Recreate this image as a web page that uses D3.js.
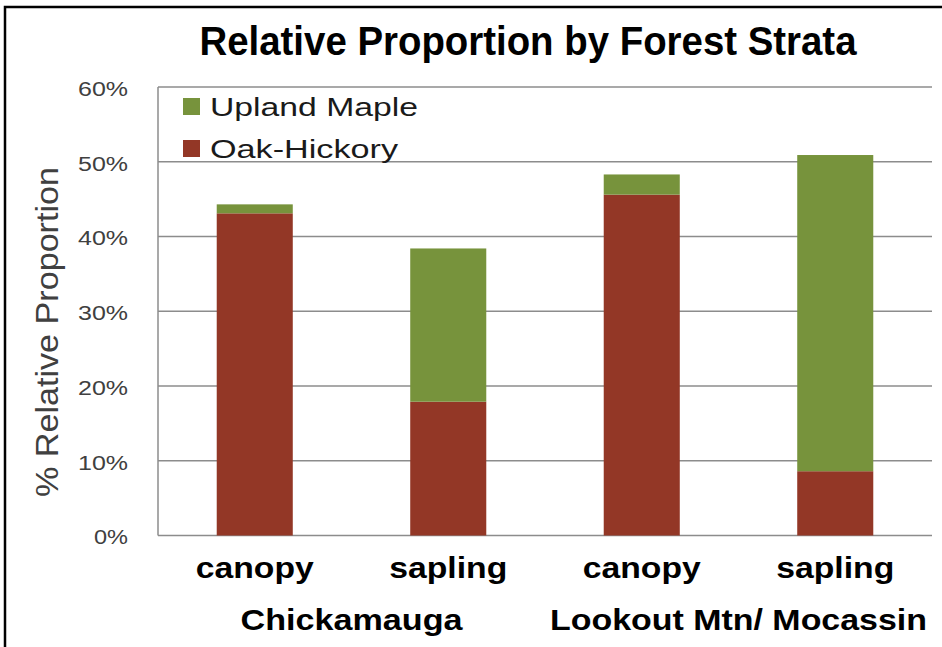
<!DOCTYPE html>
<html>
<head>
    <title>Relative Proportion by Forest Strata</title>
    <script src="https://d3js.org/d3.v7.min.js"></script>
    <style>
        body { margin: 0; background: white; }
        svg { display: block; font-family: "Liberation Sans", Arial, sans-serif; }
    </style>
</head>
<body>
    <div id="chart"></div>
    <script>
        // data (percent)
        const strata = ["canopy", "sapling", "canopy", "sapling"];
        const sites = ["Chickamauga", "Lookout Mtn/ Mocassin"];
        const oakHickory = [43.1, 17.9, 45.6, 8.6];
        const uplandMaple = [1.2, 20.5, 2.7, 42.3];
        const yTicks = [0, 10, 20, 30, 40, 50, 60];
        const seriesNames = ["Upland Maple", "Oak-Hickory"];

        const width = 942, height = 647;
        const margin = { top: 87, right: 10, bottom: 111, left: 158 };
        const plotRight = 932;
        const colors = { "Oak-Hickory": "#933726", "Upland Maple": "#77933c" };

        const svg = d3.select("#chart")
            .append("svg")
            .attr("width", width)
            .attr("height", height);

        // black frame (only top and left visible in the picture)
        svg.append("rect")
            .attr("x", 5)
            .attr("y", 7)
            .attr("width", width + 20)
            .attr("height", height + 20)
            .attr("fill", "none")
            .attr("stroke", "#000")
            .attr("stroke-width", 2.5);

        const x = d3.scaleBand()
            .domain(d3.range(strata.length))
            .range([margin.left, plotRight])
            .paddingInner(0.607)
            .paddingOuter(0.3035);

        const y = d3.scaleLinear()
            .domain([0, 60])
            .range([height - margin.bottom - 0.5, margin.top]);

        // gridlines
        svg.append("g")
            .selectAll("line")
            .data(yTicks)
            .join("line")
            .attr("x1", margin.left)
            .attr("x2", plotRight)
            .attr("y1", d => y(d))
            .attr("y2", d => y(d))
            .attr("stroke", "#8c8c8c")
            .attr("stroke-width", 1.5);

        // left axis line
        svg.append("line")
            .attr("x1", margin.left)
            .attr("x2", margin.left)
            .attr("y1", y(0))
            .attr("y2", y(60))
            .attr("stroke", "#8c8c8c")
            .attr("stroke-width", 1.5);

        // y tick labels
        const yAxis = d3.axisLeft(y)
            .tickValues(yTicks)
            .tickSize(0)
            .tickPadding(30)
            .tickFormat(d => d + "%");

        const yg = svg.append("g")
            .attr("transform", `translate(${margin.left},0)`)
            .call(yAxis);
        yg.select(".domain").remove();
        yg.selectAll("text")
            .attr("font-family", "Liberation Sans, Arial, sans-serif")
            .attr("font-size", 20)
            .attr("fill", "#404040")
            .attr("textLength", d => d === 0 ? 34 : 50)
            .attr("lengthAdjust", "spacingAndGlyphs")
            .attr("dy", "0.42em");

        // stacked bars
        const rows = strata.map((s, i) => ({
            idx: i,
            "Oak-Hickory": oakHickory[i],
            "Upland Maple": uplandMaple[i]
        }));
        const stack = d3.stack().keys(["Oak-Hickory", "Upland Maple"]);
        const layers = stack(rows);

        svg.append("g")
            .selectAll("g")
            .data(layers)
            .join("g")
            .attr("fill", d => colors[d.key])
            .selectAll("rect")
            .data(d => d)
            .join("rect")
            .attr("x", d => x(d.data.idx))
            .attr("width", x.bandwidth())
            .attr("y", d => y(d[1]))
            .attr("height", d => y(d[0]) - y(d[1]));

        // x labels (strata)
        const xAxis = d3.axisBottom(x)
            .tickSize(0)
            .tickPadding(0)
            .tickFormat(i => strata[i]);
        const xg = svg.append("g")
            .attr("transform", `translate(0,${y(0)})`)
            .call(xAxis);
        xg.select(".domain").remove();
        xg.selectAll("text")
            .attr("font-family", "Liberation Sans, Arial, sans-serif")
            .attr("font-size", 30)
            .attr("font-weight", "bold")
            .attr("fill", "#000")
            .attr("dy", null)
            .attr("y", 42)
            .attr("textLength", 118)
            .attr("lengthAdjust", "spacingAndGlyphs");

        // site labels centred under each pair of bars
        svg.append("g")
            .selectAll("text")
            .data(sites)
            .join("text")
            .attr("x", (d, i) => (x(i * 2) + x(i * 2 + 1) + x.bandwidth()) / 2)
            .attr("y", 630)
            .attr("text-anchor", "middle")
            .attr("font-size", 30)
            .attr("font-weight", "bold")
            .attr("fill", "#000")
            .attr("textLength", (d, i) => i === 0 ? 222 : 377)
            .attr("lengthAdjust", "spacingAndGlyphs")
            .text(d => d);

        // title
        svg.append("text")
            .attr("x", 528)
            .attr("y", 55)
            .attr("text-anchor", "middle")
            .attr("font-size", 41)
            .attr("font-weight", "bold")
            .attr("fill", "#000")
            .attr("textLength", 657)
            .attr("lengthAdjust", "spacingAndGlyphs")
            .text("Relative Proportion by Forest Strata");

        // y axis title
        svg.append("text")
            .attr("transform", `translate(58,332) rotate(-90)`)
            .attr("text-anchor", "middle")
            .attr("font-size", 32)
            .attr("fill", "#404040")
            .attr("textLength", 330)
            .attr("lengthAdjust", "spacingAndGlyphs")
            .text("% Relative Proportion");

        // legend
        const legend = svg.append("g")
            .selectAll("g")
            .data(seriesNames)
            .join("g")
            .attr("transform", (d, i) => `translate(183,${98 + i * 42})`);
        legend.append("rect")
            .attr("width", 17)
            .attr("height", 17)
            .attr("fill", d => colors[d]);
        legend.append("text")
            .attr("x", 27)
            .attr("y", 18)
            .attr("font-size", 25)
            .attr("fill", "#1a1a1a")
            .attr("textLength", (d, i) => i === 0 ? 208 : 188)
            .attr("lengthAdjust", "spacingAndGlyphs")
            .text(d => d);
    </script>
</body>
</html>
